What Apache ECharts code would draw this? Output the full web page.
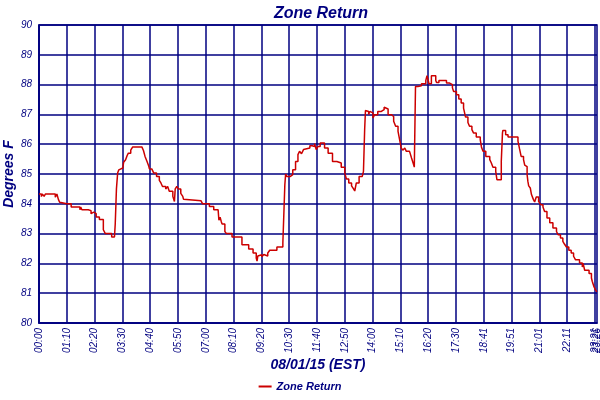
<!DOCTYPE html>
<html>
<head>
<meta charset="utf-8">
<script src="https://cdn.jsdelivr.net/npm/echarts@6/dist/echarts.min.js"></script>
<style>html,body{margin:0;padding:0;background:#fff}#c{width:600px;height:400px}</style>
</head>
<body>
<div id="c"></div>
<script>
// minutes after midnight (08/01/15 EST)
var minutes = [0,6,8,13,16,41,45,49,52,53,70,72,81,103,105,108,124,131,135,138,144,152,162,167,183,190,192,195,198,201,206,211,213,218,222,225,231,236,259,263,267,272,276,278,284,289,296,303,307,311,319,324,328,337,341,343,347,351,357,362,364,366,408,412,429,440,451,453,456,459,461,468,472,486,495,500,511,528,539,547,549,551,554,561,566,571,576,581,599,614,619,621,624,633,639,646,652,656,661,666,671,682,688,692,694,698,702,708,719,728,739,750,761,770,774,780,787,792,795,799,806,814,817,820,822,826,830,833,838,841,845,853,862,869,873,879,887,893,898,904,908,912,916,921,925,933,938,942,945,948,954,963,974,977,982,988,999,1001,1007,1026,1034,1041,1044,1051,1057,1063,1069,1074,1080,1084,1090,1094,1101,1111,1114,1118,1125,1135,1139,1143,1150,1153,1164,1167,1168,1175,1181,1206,1210,1214,1220,1223,1225,1229,1231,1233,1237,1240,1245,1248,1252,1258,1263,1269,1273,1279,1286,1294,1303,1307,1313,1319,1323,1328,1334,1340,1346,1351,1361,1368,1370,1374,1385,1391,1393,1397,1402,1405];
// Zone Return temperature, degrees F
var zoneReturn = [84.33,84.24,84.33,84.25,84.33,84.22,84.33,84.14,84.05,84.0,83.95,84.0,83.89,83.8,83.89,83.8,83.77,83.67,83.72,83.67,83.56,83.47,83.13,83.0,82.89,82.93,83.33,84.5,85.03,85.14,85.2,85.23,85.39,85.48,85.62,85.7,85.8,85.91,85.88,85.79,85.59,85.42,85.28,85.17,85.12,85.03,84.92,84.79,84.7,84.58,84.5,84.58,84.42,84.25,84.08,84.5,84.58,84.5,84.35,84.25,84.15,84.1,84.1,84.0,83.91,83.8,83.77,83.45,83.55,83.4,83.32,83.07,83.0,82.89,82.93,82.89,82.63,82.48,82.35,82.18,82.08,82.25,82.29,82.22,82.3,82.25,82.35,82.44,82.55,82.68,84.64,85.0,84.92,84.98,85.14,85.42,85.65,85.76,85.68,85.82,85.87,85.95,85.98,85.92,86.02,85.82,85.92,86.04,85.87,85.7,85.42,85.37,85.23,85.03,84.83,84.7,84.6,84.5,84.43,84.7,84.92,84.98,85.09,86.5,87.13,87.1,87.0,87.1,87.05,86.88,86.99,87.1,87.16,87.24,87.18,86.99,86.93,86.77,86.6,86.43,86.15,85.87,85.8,85.87,85.76,85.7,85.54,85.37,85.23,87.94,87.96,88.03,88.14,88.3,88.03,88.3,88.14,88.07,88.14,88.05,88.0,87.89,87.77,87.66,87.52,87.38,87.21,86.91,86.73,86.6,86.49,86.38,86.24,86.15,85.91,85.76,85.59,85.48,85.37,85.23,85.09,84.81,85.42,86.38,86.46,86.32,86.24,86.1,85.84,85.59,85.48,85.3,85.25,84.98,84.75,84.6,84.53,84.31,84.14,84.06,84.23,84.08,83.97,83.89,83.74,83.52,83.36,83.19,83.07,82.96,82.85,82.74,82.65,82.55,82.44,82.35,82.24,82.12,82.01,81.88,82.0,81.77,81.66,81.51,81.4,81.23,81.09,81.05];
// x tick positions (minutes) and their labels
var xTickValues = [0,70,140,210,280,350,420,490,560,630,700,770,840,910,980,1050,1120,1190,1260,1330,1400];
var xTickLabels = ['00:00','01:10','02:20','03:30','04:40','05:50','07:00','08:10','09:20','10:30','11:40','12:50','14:00','15:10','16:20','17:30','18:41','19:51','21:01','22:11','23:21'];
var xEndValue = [1405];
var xEndLabel = ['23:26'];

var navy = '#000080';
var font = 'Liberation Sans';
var pts = minutes.map(function (m, i) { return [m, zoneReturn[i]]; });
var lblStyle = {rotate: 90, color: navy, fontFamily: font, fontStyle: 'italic', fontSize: 10, margin: 5, hideOverlap: false};

var chart = echarts.init(document.getElementById('c'), null, {renderer: 'canvas'});
chart.setOption({
  animation: false,
  backgroundColor: '#fff',
  title: {
    text: 'Zone Return', left: 316, top: 1, textAlign: 'center',
    textStyle: {color: navy, fontFamily: font, fontStyle: 'italic', fontWeight: 'bold', fontSize: 16}
  },
  legend: {
    bottom: 3, left: 'center', icon: 'rect', itemWidth: 13, itemHeight: 2, itemGap: 4,
    textStyle: {color: navy, fontFamily: font, fontStyle: 'italic', fontWeight: 'bold', fontSize: 11},
    data: ['Zone Return']
  },
  grid: {left: 39, right: 3, top: 25, bottom: 77, containLabel: false, outerBoundsMode: 'none',
    show: true, borderColor: navy, borderWidth: 1.5, backgroundColor: 'transparent'},
  xAxis: [{
    type: 'value', min: 0, max: 1405, position: 'bottom',
    name: '08/01/15 (EST)', nameLocation: 'middle', nameGap: 35, nameMoveOverlap: false,
    nameTextStyle: {color: navy, fontFamily: font, fontStyle: 'italic', fontWeight: 'bold', fontSize: 14},
    axisLine: {show: true, lineStyle: {color: navy, width: 1.5}},
    axisTick: {show: false, customValues: xTickValues},
    axisLabel: Object.assign({}, lblStyle, {
      customValues: xTickValues,
      formatter: function (v) { var i = xTickValues.indexOf(v); return i >= 0 ? xTickLabels[i] : ''; }
    }),
    splitLine: {show: true, lineStyle: {color: navy, width: 1.5}}
  }, {
    type: 'value', min: 0, max: 1405, position: 'bottom', offset: 0,
    axisLine: {show: false}, axisTick: {show: false, customValues: xEndValue}, splitLine: {show: false},
    axisLabel: Object.assign({}, lblStyle, {
      customValues: xEndValue,
      formatter: function (v) { var i = xEndValue.indexOf(v); return i >= 0 ? xEndLabel[i] : ''; }
    })
  }],
  yAxis: {
    type: 'value', min: 80, max: 90, interval: 1,
    name: 'Degrees F', nameLocation: 'middle', nameGap: 23, nameMoveOverlap: false,
    nameTextStyle: {color: navy, fontFamily: font, fontStyle: 'italic', fontWeight: 'bold', fontSize: 14},
    axisLine: {show: true, lineStyle: {color: navy, width: 1.5}},
    axisTick: {show: false},
    axisLabel: {color: navy, fontFamily: font, fontStyle: 'italic', fontSize: 10, margin: 7},
    splitLine: {show: true, lineStyle: {color: navy, width: 1.5}}
  },
  series: [{
    name: 'Zone Return', type: 'line', step: 'end', showSymbol: false,
    data: pts, color: '#cc0000',
    lineStyle: {color: '#cc0000', width: 1.5}
  }]
});
</script>
</body>
</html>
